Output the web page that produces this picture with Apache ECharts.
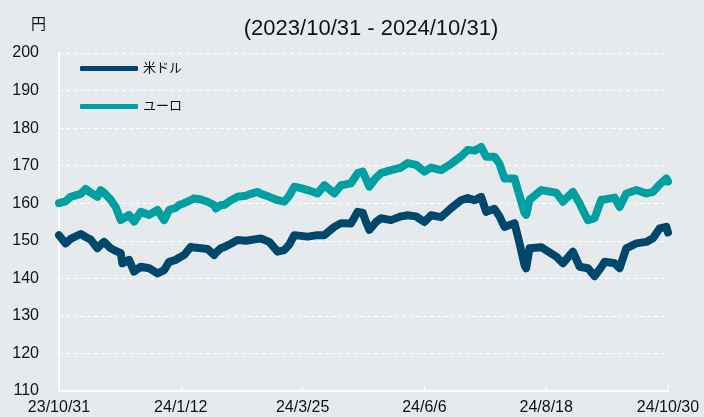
<!DOCTYPE html>
<html><head><meta charset="utf-8">
<script src="https://cdn.jsdelivr.net/npm/echarts@6/dist/echarts.min.js"></script>
<style>html,body{margin:0;padding:0;background:#e7eaed;}#c{width:704px;height:417px;}</style>
</head><body><div id="c"></div>
<script>
const startDate = '2023-10-31';
const tickLabels = ['23/10/31','24/1/12','24/3/25','24/6/6','24/8/18','24/10/30'];
const seriesNames = ['米ドル','ユーロ'];
const dates = ['2023-10-31','2023-11-04','2023-11-07','2023-11-13','2023-11-16','2023-11-19','2023-11-23','2023-11-25','2023-11-27',
'2023-12-01','2023-12-04','2023-12-07','2023-12-08','2023-12-12','2023-12-15','2023-12-19','2023-12-24','2023-12-29',
'2024-01-02','2024-01-05','2024-01-09','2024-01-11','2024-01-14','2024-01-18','2024-01-20','2024-01-24','2024-01-28',
'2024-02-01','2024-02-02','2024-02-05','2024-02-07','2024-02-11','2024-02-15','2024-02-20','2024-02-23','2024-02-27','2024-02-29',
'2024-03-05','2024-03-10','2024-03-14','2024-03-17','2024-03-20','2024-03-24','2024-03-28',
'2024-04-03','2024-04-07','2024-04-13','2024-04-17','2024-04-23','2024-04-27','2024-04-30',
'2024-05-02','2024-05-04','2024-05-08','2024-05-11','2024-05-17','2024-05-23','2024-05-27',
'2024-06-01','2024-06-06','2024-06-10','2024-06-16','2024-06-22','2024-06-28',
'2024-07-02','2024-07-06','2024-07-10','2024-07-13','2024-07-18','2024-07-21','2024-07-24','2024-07-30',
'2024-08-02','2024-08-05','2024-08-06','2024-08-08','2024-08-15','2024-08-24','2024-08-28',
'2024-09-03','2024-09-07','2024-09-08','2024-09-12','2024-09-16','2024-09-20','2024-09-22','2024-09-28',
'2024-10-01','2024-10-05','2024-10-11','2024-10-17','2024-10-21','2024-10-25','2024-10-29','2024-10-30'];
const usd = [151.5,149.3,150.5,151.8,151.0,150.3,148.0,149.0,149.7,
148.0,147.3,146.7,144.0,144.9,141.8,143.1,142.7,141.3,
142.2,144.4,144.9,145.5,146.2,148.4,148.2,148.0,147.8,
146.2,146.8,148.0,148.3,149.2,150.2,150.0,150.2,150.5,150.6,
149.7,147.1,147.5,149.0,151.5,151.3,151.1,
151.5,151.5,153.7,154.7,154.6,157.7,157.5,
155.0,152.9,155.0,156.0,155.5,156.5,156.8,
156.5,155.0,156.8,156.3,158.7,160.8,
161.4,160.8,161.7,157.7,158.5,156.5,153.7,154.7,
149.4,143.5,142.7,148.0,148.3,145.8,144.0,
147.1,143.1,142.9,142.7,140.6,143.0,144.4,144.0,
142.7,148.0,149.3,149.7,150.7,153.3,153.7,152.2];
const eur = [160.0,160.5,161.7,162.5,163.8,162.8,161.7,163.5,162.8,
160.9,159.0,155.5,156.0,156.9,155.1,157.7,156.9,158.2,
155.5,158.2,158.8,159.5,160.0,160.8,161.3,161.0,160.4,
159.5,158.6,159.5,159.5,160.8,161.7,162.0,162.5,163.0,162.5,
161.7,160.8,160.4,162.0,164.4,164.0,163.5,
162.6,164.8,162.6,164.8,165.3,168.0,168.4,
166.5,164.4,166.8,168.0,168.8,169.5,170.7,
170.2,168.4,169.5,168.8,170.5,172.5,
174.2,174.0,175.0,172.4,172.4,170.5,166.6,166.6,
162.0,157.5,156.9,160.9,163.5,162.8,160.4,
163.0,160.0,159.0,155.5,156.0,160.9,161.0,161.5,
159.0,162.6,163.5,162.6,163.0,165.0,166.6,165.8];

const DAY = 86400000;
function dayIndex(s){const p=s.split('-').map(Number);const q=startDate.split('-').map(Number);
  return Math.round((Date.UTC(p[0],p[1]-1,p[2])-Date.UTC(q[0],q[1]-1,q[2]))/DAY);}
const xs = dates.map(dayIndex);
const font = 'Liberation Sans, Arial, Noto Sans CJK JP, sans-serif';
const chart = echarts.init(document.getElementById('c'));
chart.setOption({
  backgroundColor:'#e7eaed',
  animation:false,
  textStyle:{fontFamily:font},
  title:{text:'(2023/10/31 - 2024/10/31)',left:371,textAlign:'center',top:18,padding:0,
    textStyle:{fontSize:22,fontWeight:'normal',color:'#111',fontFamily:font}},
  graphic:[{type:'text',left:31,top:17,style:{text:'円',font:'15px '+font,fill:'#111'}}],
  legend:{orient:'vertical',left:80,top:62,padding:0,itemWidth:58,itemHeight:5,itemGap:25,icon:'roundRect',
    textStyle:{fontSize:13,color:'#111',fontFamily:font},data:seriesNames},
  grid:{left:59,right:36,top:53,bottom:26,containLabel:false},
  xAxis:{type:'value',min:0,max:365,interval:73,
    axisLine:{show:true,lineStyle:{color:'#ffffff',width:2}},
    axisTick:{show:true,inside:true,length:5,lineStyle:{color:'#ffffff'}},
    splitLine:{show:false},
    axisLabel:{fontSize:16,color:'#111',margin:9,fontFamily:font,
      formatter:v=>tickLabels[Math.round(v/73)]}},
  yAxis:{type:'value',min:110,max:200,interval:10,
    axisLine:{show:true,lineStyle:{color:'#ffffff',width:2}},
    axisTick:{show:false},
    splitLine:{show:true,lineStyle:{color:'#ffffff',type:[4,3],width:1}},
    axisLabel:{fontSize:16,color:'#111',margin:20,fontFamily:font}},
  series:[
    {name:seriesNames[0],type:'line',symbol:'none',data:xs.map((x,i)=>[x,usd[i]]),
      lineStyle:{color:'#00486b',width:8,cap:'round',join:'round'},itemStyle:{color:'#00486b'}},
    {name:seriesNames[1],type:'line',symbol:'none',data:xs.map((x,i)=>[x,eur[i]]),
      lineStyle:{color:'#00a0a2',width:8,cap:'round',join:'round'},itemStyle:{color:'#00a0a2'}}
  ]
});
</script></body></html>
